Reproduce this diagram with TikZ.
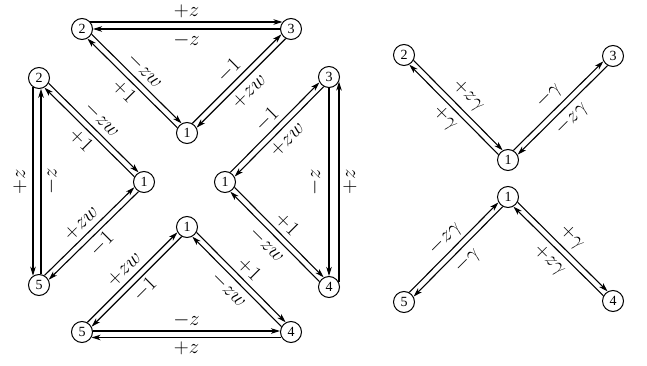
\documentclass[tikz,border=0pt]{standalone}
\usepackage{fontspec}
\newfontfamily\digitfont{Liberation Serif}
\usetikzlibrary{calc,arrows.meta}
\newcount\labcnt
\tikzset{
  st/.style={circle, draw, line width=1pt, minimum size=21pt, inner sep=0pt,
    font=\digitfont\fontsize{14}{14}\selectfont},
  arr/.style={line width=1.1pt, -{Stealth[length=9pt,width=5.5pt,inset=2.5pt]}},
  lab/.style={inner sep=0pt, font=\fontsize{20}{24}\selectfont},
}
% #1 from, #2 to (arrow), #3 line offset (left of direction), #4 label, #5 label rotation, #6 label offset
\newcommand\dl[6]{%
  \pgfmathsetmacro\sa{sqrt(121-(#3)*(#3))}%
  \global\advance\labcnt by 1
  \draw[arr] ($(#1)!\sa pt!(#2)!#3pt!90:(#2)$) -- ($(#2)!\sa pt!(#1)!#3pt!-90:(#1)$);
  \node[lab, rotate=#5] (lab\the\labcnt) at ($(#1)!0.5!(#2)!#6pt!90:(#2)$) {$#4$};
}
\begin{document}
\begin{tikzpicture}[x=1pt,y=-1pt]
\useasboundingbox (0,0) rectangle (647,366);
% nodes
\node[st] (t2) at (82,29) {2};
\node[st] (t3) at (291,29) {3};
\node[st] (t1) at (187,133) {1};
\node[st] (l2) at (39,78) {2};
\node[st] (l5) at (39,285) {5};
\node[st] (l1) at (144,182) {1};
\node[st] (r1) at (225,182) {1};
\node[st] (r3) at (329,77) {3};
\node[st] (r4) at (329,287) {4};
\node[st] (b1) at (187,227) {1};
\node[st] (b5) at (82,332) {5};
\node[st] (b4) at (291,332) {4};
\node[st] (v2) at (404,55) {2};
\node[st] (v3) at (613,56) {3};
\node[st] (v1) at (508,160) {1};
\node[st] (w1) at (508,197) {1};
\node[st] (w5) at (404,302) {5};
\node[st] (w4) at (613,301) {4};
% top triangle
\dl{t2}{t3}{7}{+z}{0}{17.5}
\dl{t3}{t2}{0}{-z}{0}{11}
\dl{t2}{t1}{3}{-zw}{-45}{14.5}
\dl{t1}{t2}{3}{+1}{-45}{14.5}
\dl{t1}{t3}{3}{-1}{45}{14.5}
\dl{t3}{t1}{3}{+zw}{45}{14.5}
% left triangle
\dl{l2}{l1}{3}{-zw}{-45}{14.5}
\dl{l1}{l2}{3}{+1}{-45}{14.5}
\dl{l1}{l5}{3}{-1}{45}{14.5}
\dl{l5}{l1}{3}{+zw}{45}{14.5}
\dl{l2}{l5}{-6}{+z}{90}{-19}
\dl{l5}{l2}{-2}{-z}{90}{-12.5}
% right triangle
\dl{r1}{r3}{3}{-1}{45}{14.5}
\dl{r3}{r1}{3}{+zw}{45}{14.5}
\dl{r1}{r4}{3}{+1}{-45}{14.5}
\dl{r4}{r1}{3}{-zw}{-45}{14.5}
\dl{r3}{r4}{0}{-z}{90}{-14}
\dl{r4}{r3}{-10}{+z}{90}{-21}
% bottom triangle
\dl{b5}{b1}{3}{+zw}{45}{14.5}
\dl{b1}{b5}{3}{-1}{45}{14.5}
\dl{b1}{b4}{3}{+1}{-45}{14.5}
\dl{b4}{b1}{3}{-zw}{-45}{14.5}
\dl{b5}{b4}{1}{-z}{0}{12}
\dl{b4}{b5}{5.5}{+z}{0}{16.5}
% right diagram
\dl{v2}{v1}{3}{+z\gamma}{-45}{17}
\dl{v1}{v2}{3}{+\gamma}{-45}{15.5}
\dl{v1}{v3}{3}{-\gamma}{45}{16.5}
\dl{v3}{v1}{3}{-z\gamma}{45}{16}
\dl{w5}{w1}{3}{-z\gamma}{45}{15}
\dl{w1}{w5}{3}{-\gamma}{45}{16}
\dl{w1}{w4}{3}{+\gamma}{-45}{16}
\dl{w4}{w1}{3}{+z\gamma}{-45}{16}
\end{tikzpicture}
\end{document}
